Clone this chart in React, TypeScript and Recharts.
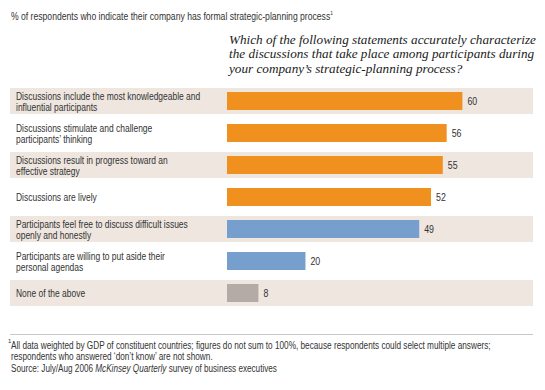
import { BarChart, Bar, XAxis, YAxis, Cell, LabelList } from "recharts";

const categories = [
  "Discussions include the most knowledgeable and\ninfluential participants",
  "Discussions stimulate and challenge\nparticipants’ thinking",
  "Discussions result in progress toward an\neffective strategy",
  "Discussions are lively",
  "Participants feel free to discuss difficult issues\nopenly and honestly",
  "Participants are willing to put aside their\npersonal agendas",
  "None of the above",
];

const values = [60, 56, 55, 52, 49, 20, 8];

const barColors = ["#F0901E", "#F0901E", "#F0901E", "#F0901E", "#769FCD", "#769FCD", "#B2ABA6"];

const data = categories.map((label, i) => ({ label, value: values[i] }));

// no condensed font installed, so squeeze Liberation Sans horizontally
const SANS = "'Liberation Sans', Arial, sans-serif";
const SERIF = "'Liberation Serif', 'DejaVu Serif', serif";
const SQUEEZE = 0.77;
const BAND = "#EEE6DF";
const TEXT = "#333333";

const PLOT_LEFT = 227;
const BAND_LEFT = 10;
const BAND_RIGHT = 533;

function CategoryTick(props: any) {
  const { y, payload } = props;
  const lines = String(payload.value).split("\n");
  const start = -((lines.length - 1) * 11) / 2;
  return (
    <g transform={`translate(16 ${y}) scale(${SQUEEZE} 1)`}>
      <text x={0} y={start} fill={TEXT} fontSize={11} fontFamily={SANS} dominantBaseline="central">
        {lines.map((line, i) => (
          <tspan key={i} x={0} y={start + i * 11}>
            {line}
          </tspan>
        ))}
      </text>
    </g>
  );
}

function ValueLabel(props: any) {
  const { x, y, width, height, value } = props;
  return (
    <g transform={`translate(${x + width + 5} ${y + height / 2}) scale(0.8 1)`}>
      <text x={0} y={0} fill={TEXT} fontSize={11} fontFamily={SANS} dominantBaseline="central">
        {value}
      </text>
    </g>
  );
}

function RowBand(props: any) {
  const { y, height, index } = props;
  if (index % 2 !== 0) return <g />;
  return (
    <rect
      x={BAND_LEFT}
      y={y - 4}
      width={BAND_RIGHT - BAND_LEFT}
      height={height + 8}
      fill={BAND}
    />
  );
}

const squeezed = (s: number): React.CSSProperties => ({
  display: "inline-block",
  transform: `scaleX(${s})`,
  transformOrigin: "0 0",
  whiteSpace: "nowrap",
});

export default function App() {
  return (
    <div
      style={{
        position: "absolute",
        left: 0,
        top: 0,
        width: 545,
        height: 390,
        background: "#fff",
        fontFamily: SANS,
        color: TEXT,
        overflow: "hidden",
      }}
    >
      <div style={{ position: "absolute", left: 11, top: 6, fontSize: 10.5, lineHeight: "14px" }}>
        <span style={squeezed(0.82)}>
          % of respondents who indicate their company has formal strategic-planning process
          <sup style={{ fontSize: 6 }}>1</sup>
        </span>
      </div>
      <div
        style={{
          position: "absolute",
          left: 229,
          top: 33,
          fontFamily: SERIF,
          fontStyle: "italic",
          fontSize: 13.2,
          lineHeight: "14.4px",
          color: "#222",
          whiteSpace: "nowrap",
        }}
      >
        Which of the following statements accurately characterize
        <br />
        the discussions that take place among participants during
        <br />
        your company’s strategic-planning process?
      </div>

      <div style={{ position: "absolute", left: 0, top: 0 }}>
        <BarChart
          width={545}
          height={390}
          data={data}
          layout="vertical"
          margin={{ top: 85, right: 545 - BAND_RIGHT, bottom: 81, left: 0 }}
        >
          <XAxis type="number" domain={[0, 78]} hide />
          <YAxis
            type="category"
            dataKey="label"
            width={PLOT_LEFT}
            axisLine={false}
            tickLine={false}
            interval={0}
            tick={<CategoryTick />}
          />
          <Bar dataKey="value" barSize={18} isAnimationActive={false} background={<RowBand />}>
            {data.map((d, i) => (
              <Cell key={d.label} fill={barColors[i]} />
            ))}
            <LabelList dataKey="value" content={<ValueLabel />} />
          </Bar>
        </BarChart>
      </div>

      <div
        style={{
          position: "absolute",
          left: BAND_LEFT,
          top: 334,
          width: BAND_RIGHT - BAND_LEFT,
          borderTop: "1px solid #C8C8C8",
        }}
      />
      <div style={{ position: "absolute", left: 8, top: 338, fontSize: 6, color: TEXT }}>1</div>
      <div style={{ position: "absolute", left: 11, top: 340, fontSize: 10, lineHeight: "11px" }}>
        <span style={squeezed(0.822)}>
          All data weighted by GDP of constituent countries; figures do not sum to 100%, because respondents could select multiple answers;
          <br />
          respondents who answered ‘don’t know’ are not shown.
        </span>
      </div>
      <div style={{ position: "absolute", left: 11, top: 363, fontSize: 10, lineHeight: "12px" }}>
        <span style={squeezed(0.815)}>
          Source: July/Aug 2006 <i>McKinsey Quarterly</i> survey of business executives
        </span>
      </div>
    </div>
  );
}
